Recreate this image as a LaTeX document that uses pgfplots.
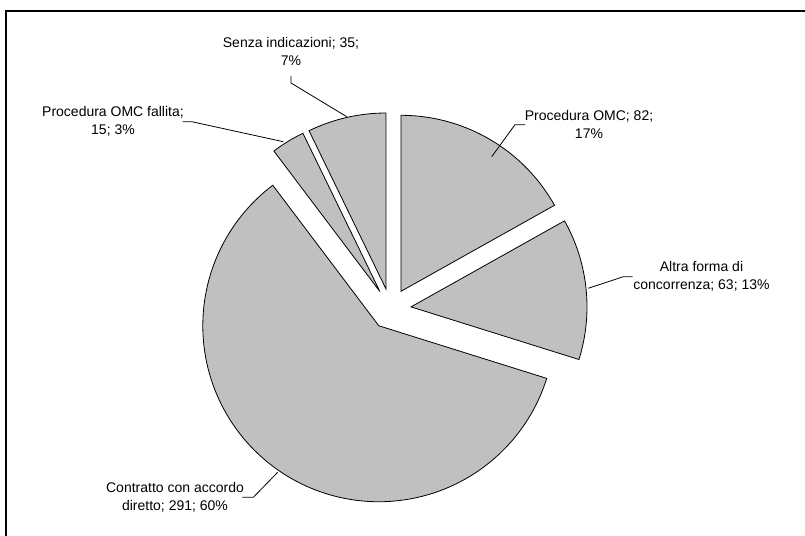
\documentclass[border=0pt]{standalone}
\usepackage{pgfplots}
\pgfplotsset{compat=1.18}
\usepackage{fontspec}
\setmainfont{Liberation Sans}

\definecolor{slicegray}{RGB}{192,192,192}

% pie geometry (drawing units = bp)
\def\Cx{390.6}
\def\Cy{227}
\def\R{176}
\def\D{20.5}
\pgfmathsetmacro\tot{82+63+291+15+35}

% #1 slice name, #2 start angle, #3 value; slices run clockwise
\newcommand\defslice[3]{%
  \pgfmathsetmacro\tmpw{#3/\tot*360}%
  \expandafter\xdef\csname s#1\endcsname{#2}%
  \pgfmathsetmacro\tmpe{#2-\tmpw}%
  \expandafter\xdef\csname e#1\endcsname{\tmpe}%
  \pgfmathsetmacro\tmpx{\Cx+\D*cos(#2-\tmpw/2)}%
  \expandafter\xdef\csname x#1\endcsname{\tmpx}%
  \pgfmathsetmacro\tmpy{\Cy+\D*sin(#2-\tmpw/2)}%
  \expandafter\xdef\csname y#1\endcsname{\tmpy}%
}
\defslice{A}{90}{82}   % Procedura OMC
\defslice{B}{\eA}{63}  % Altra forma di concorrenza
\defslice{C}{\eB}{291} % Contratto con accordo diretto
\defslice{D}{\eC}{15}  % Procedura OMC fallita
\defslice{E}{\eD}{35}  % Senza indicazioni

\begin{document}
\begin{tikzpicture}[font=\fontsize{14bp}{18bp}\selectfont]
\begin{axis}[
  name=ax, hide axis, scale only axis,
  width=805bp, height=536bp,
  xmin=0, xmax=805, ymin=0, ymax=536,
  clip=false,
  slice/.style={fill=slicegray, draw=black, line width=0.8bp, line join=miter, samples=120},
  leader/.style={black, line width=0.8bp, no marks},
]
\addplot[slice, domain=\eA:\sA] ({\xA+\R*cos(x)},{\yA+\R*sin(x)}) -- (\xA,\yA) -- cycle;
\addplot[slice, domain=\eB:\sB] ({\xB+\R*cos(x)},{\yB+\R*sin(x)}) -- (\xB,\yB) -- cycle;
\addplot[slice, domain=\eC:\sC] ({\xC+\R*cos(x)},{\yC+\R*sin(x)}) -- (\xC,\yC) -- cycle;
\addplot[slice, domain=\eD:\sD] ({\xD+\R*cos(x)},{\yD+\R*sin(x)}) -- (\xD,\yD) -- cycle;
\addplot[slice, domain=\eE:\sE] ({\xE+\R*cos(x)},{\yE+\R*sin(x)}) -- (\xE,\yE) -- cycle;

% leader lines
\addplot[leader] coordinates {(291,460) (291,453) (346.7,419.3)};
\addplot[leader] coordinates {(525,411.3) (515,411.3) (491.7,379.3)};
\addplot[leader] coordinates {(632.7,259.3) (623.3,259.3) (588.3,247.7)};
\addplot[leader] coordinates {(182.7,414.3) (191.7,414.3) (283.3,394.3)};
\addplot[leader] coordinates {(242.3,38.7) (253.3,38.7) (277.7,63.7)};

% data labels
\node[align=center, inner sep=0pt] at (axis cs:291,484.2) {Senza indicazioni; 35;\\7\%};
\node[align=center, inner sep=0pt] at (axis cs:589,412) {Procedura OMC; 82;\\17\%};
\node[align=center, inner sep=0pt] at (axis cs:701.5,260) {Altra forma di\\concorrenza; 63; 13\%};
\node[align=center, inner sep=0pt] at (axis cs:113,414.3) {Procedura OMC fallita;\\15; 3\%};
\node[align=center, inner sep=0pt] at (axis cs:175,39) {Contratto con accordo\\diretto; 291; 60\%};

% chart area border (left and top edges)
\draw[line width=2bp] (axis cs:6,0) -- (axis cs:6,525) -- (axis cs:805,525);
\end{axis}
\pgfresetboundingbox
\path[use as bounding box] (ax.south west) rectangle (ax.north east);
\end{tikzpicture}
\end{document}
